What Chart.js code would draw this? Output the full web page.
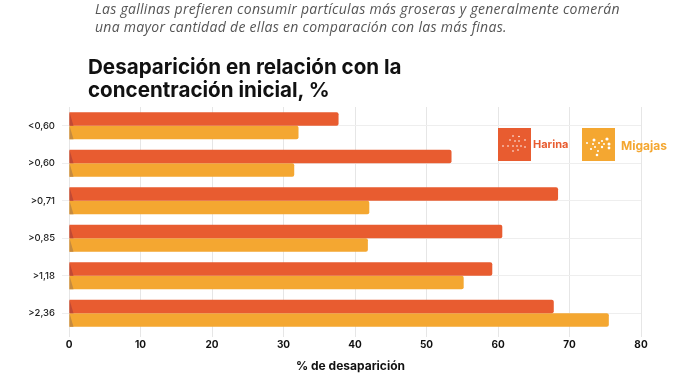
<!DOCTYPE html>
<html lang="es">
<head>
<meta charset="utf-8">
<title>Desaparición en relación con la concentración inicial</title>
<script src="https://cdn.jsdelivr.net/npm/chart.js@4.4.0/dist/chart.umd.min.js"></script>
<style>
html,body{margin:0;padding:0;background:#fff;width:700px;height:387px;overflow:hidden;font-family:Inter,"Open Sans",sans-serif}
#wrap{position:relative;width:700px;height:387px}
canvas{position:absolute;left:0;top:0}
.txt{position:absolute;white-space:nowrap}
#sub1,#sub2{left:95px;font:italic 14px/18px "Open Sans",sans-serif;color:#555;letter-spacing:.29px}
#sub1{top:0}
#sub2{top:17.5px}
#t1,#t2{left:88px;font:700 20.6px/24px Inter,sans-serif;color:#111}
#t1{top:55px}
#t2{top:78px}
.box{position:absolute;top:128px;width:33px;height:33px}
#lbl1{left:533px;top:137px;font:700 11px/14px Inter,sans-serif;color:#e85c30}
#lbl2{left:621px;top:138px;font:700 12px/15px Inter,sans-serif;color:#f4a731}
#xtitle{left:296px;top:358px;font:700 12px/16px Inter,sans-serif;color:#111}
</style>
</head>
<body>
<div id="wrap">
  <canvas id="chart" width="700" height="387"></canvas>
  <div class="txt" id="sub1">Las gallinas prefieren consumir partículas más groseras y generalmente comerán</div>
  <div class="txt" id="sub2">una mayor cantidad de ellas en comparación con las más finas.</div>
  <div class="txt" id="t1">Desaparición en relación con la</div>
  <div class="txt" id="t2">concentración inicial, %</div>
  <svg class="box" style="left:498px" viewBox="0 0 33 33">
    <rect width="33" height="33" fill="#e85c30"/>
    <g fill="#fff"><circle cx="15" cy="8" r=".8"/><circle cx="21" cy="8.5" r=".8"/><circle cx="12" cy="12" r=".8"/><circle cx="17" cy="13" r=".8"/><circle cx="21" cy="13" r=".8"/><circle cx="27" cy="12" r=".8"/><circle cx="5" cy="18" r=".8"/><circle cx="10" cy="18" r=".8"/><circle cx="15" cy="18" r=".8"/><circle cx="19" cy="18" r=".8"/><circle cx="23" cy="18" r=".8"/><circle cx="27" cy="19" r=".8"/><circle cx="15" cy="23" r=".8"/><circle cx="20" cy="22" r=".8"/></g>
  </svg>
  <svg class="box" style="left:582px" viewBox="0 0 33 33">
    <rect width="33" height="33" fill="#f4a731"/>
    <g fill="#fff"><circle cx="12" cy="12" r="1.5"/><circle cx="25" cy="11" r="1.6"/><circle cx="20" cy="13" r="1.1"/><circle cx="5" cy="15" r="1"/><circle cx="11" cy="16" r="1"/><circle cx="17" cy="15" r="1"/><circle cx="22" cy="16" r="1"/><circle cx="27" cy="16" r="1.5"/><circle cx="13" cy="19" r="1"/><circle cx="20" cy="19" r="1.2"/><circle cx="27" cy="20" r="1.4"/><circle cx="9" cy="21" r="1.1"/><circle cx="16" cy="23" r="1"/><circle cx="15" cy="27" r="1.3"/></g>
  </svg>
  <div class="txt" id="lbl1">Harina</div>
  <div class="txt" id="lbl2">Migajas</div>
  <div class="txt" id="xtitle">% de desaparición</div>
</div>
<script>
const categories = ['<0,60','>0,60','>0,71','>0,85','>1,18','>2,36'];
const harina  = [37.7,53.5,68.4,60.6,59.2,67.8];
const migajas = [32.1,31.5,42.0,41.8,55.2,75.5];
const xTicks  = [0,10,20,30,40,50,60,70,80];

// triangulito oscuro al inicio de cada barra
const barCorners = {
  id:'barCorners',
  afterDatasetsDraw(chart){
    const c = chart.ctx;
    const shades = ['#c04a35','#c68a3f'];
    chart.data.datasets.forEach((d,i)=>{
      chart.getDatasetMeta(i).data.forEach(b=>{
        const top = b.y-b.height/2, bot = b.y+b.height/2;
        c.fillStyle = shades[i];
        c.beginPath();
        c.moveTo(b.base,top);
        c.lineTo(b.base+4,bot);
        c.lineTo(b.base,bot);
        c.closePath();
        c.fill();
      });
    });
  }
};

new Chart(document.getElementById('chart').getContext('2d'),{
  type:'bar',
  plugins:[barCorners],
  data:{
    labels:categories,
    datasets:[
      {label:'Harina', data:harina, backgroundColor:'#e85c30', borderRadius:{topRight:2,bottomRight:2}, borderSkipped:false},
      {label:'Migajas',data:migajas,backgroundColor:'#f4a731', borderRadius:{topRight:2,bottomRight:2}, borderSkipped:false}
    ]
  },
  options:{
    indexAxis:'y',
    responsive:false,
    animation:false,
    categoryPercentage:.72,
    barPercentage:1,
    layout:{padding:{top:107,right:59,left:0,bottom:14}},
    plugins:{legend:{display:false},tooltip:{enabled:false}},
    scales:{
      x:{
        min:0,max:80,
        afterBuildTicks(s){ s.ticks = xTicks.map(v=>({value:v})); },
        afterFit(s){ s.height = 41; },
        grid:{color:'#e6e6e6',lineWidth:1,tickLength:5},
        border:{display:false},
        ticks:{color:'#111',font:{family:'Inter',size:10,weight:'700'},padding:2,maxRotation:0}
      },
      y:{
        afterFit(s){ s.width = 69; },
        grid:{color:'#eeeeee',lineWidth:1,tickLength:7,offset:false},
        border:{display:false},
        ticks:{color:'#222',font:{family:'Inter',size:9.5,weight:'500'},padding:7}
      }
    }
  }
});
</script>
</body>
</html>
